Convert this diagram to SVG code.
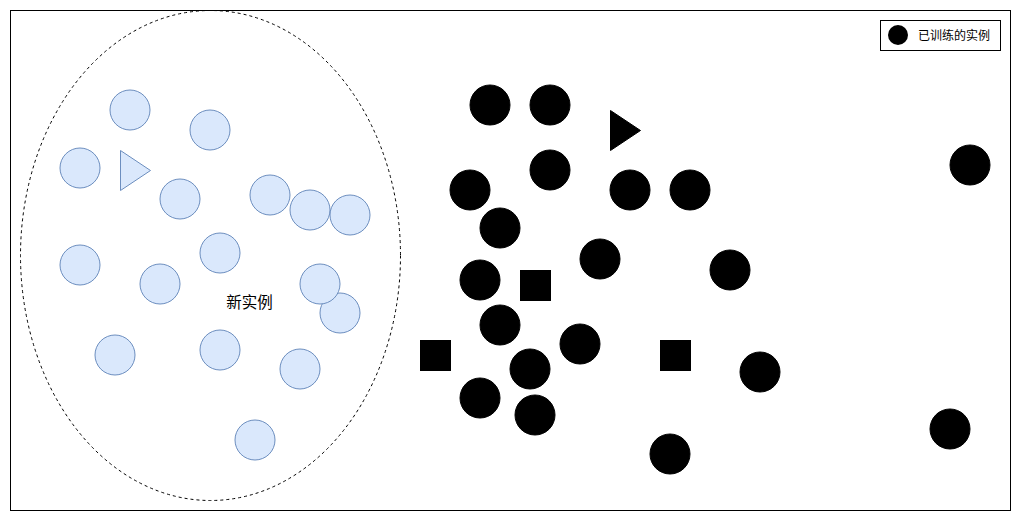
<svg xmlns="http://www.w3.org/2000/svg" width="1021" height="521" viewBox="0 0 1021 521">
<style>
.new{fill:#dae8fc;stroke:#6c8ebf;stroke-width:1}
.tr{fill:#000;stroke:#000;stroke-width:1}
.lbl{font-family:"Liberation Sans","Noto Sans CJK SC",sans-serif;fill:#000}
</style>
<rect width="1021" height="521" fill="#fff"/>
<rect id="frame" x="10.5" y="10.5" width="1000" height="500" fill="none" stroke="#000" stroke-width="1"/>
<g id="new-cluster">
<ellipse cx="210.5" cy="255.5" rx="190" ry="245" fill="none" stroke="#000" stroke-width="1" stroke-dasharray="3 3"/>
</g>
<g id="new-instances">
<circle class="new" cx="130" cy="110" r="20"/>
<circle class="new" cx="210" cy="130" r="20"/>
<circle class="new" cx="80" cy="168" r="20"/>
<polygon class="new" points="120.5,150.5 150.5,170.5 120.5,190.5"/>
<circle class="new" cx="180" cy="199" r="20"/>
<circle class="new" cx="270" cy="195" r="20"/>
<circle class="new" cx="310" cy="210" r="20"/>
<circle class="new" cx="350" cy="215" r="20"/>
<circle class="new" cx="220" cy="253" r="20"/>
<circle class="new" cx="80" cy="265" r="20"/>
<circle class="new" cx="160" cy="284" r="20"/>
<circle class="new" cx="340" cy="313" r="20"/>
<circle class="new" cx="320" cy="284" r="20"/>
<circle class="new" cx="115" cy="355" r="20"/>
<circle class="new" cx="220" cy="350" r="20"/>
<circle class="new" cx="300" cy="369" r="20"/>
<circle class="new" cx="255" cy="440" r="20"/>
</g>
<g id="label-new"><text class="lbl" x="249.5" y="308" font-size="15.5" text-anchor="middle">新实例</text></g>
<g id="trained-instances">
<circle class="tr" cx="490" cy="105" r="20"/>
<circle class="tr" cx="550" cy="105" r="20"/>
<polygon class="tr" points="610.5,110.5 640.5,130.5 610.5,150.5"/>
<circle class="tr" cx="550" cy="170" r="20"/>
<circle class="tr" cx="470" cy="190" r="20"/>
<circle class="tr" cx="630" cy="190" r="20"/>
<circle class="tr" cx="690" cy="190" r="20"/>
<circle class="tr" cx="500" cy="228" r="20"/>
<circle class="tr" cx="600" cy="259" r="20"/>
<circle class="tr" cx="730" cy="270" r="20"/>
<circle class="tr" cx="480" cy="280" r="20"/>
<rect class="tr" x="520.5" y="270.5" width="30" height="30"/>
<circle class="tr" cx="500" cy="325" r="20"/>
<circle class="tr" cx="580" cy="344" r="20"/>
<rect class="tr" x="420.5" y="340.5" width="30" height="30"/>
<rect class="tr" x="660.5" y="340.5" width="30" height="30"/>
<circle class="tr" cx="530" cy="369" r="20"/>
<circle class="tr" cx="760" cy="372" r="20"/>
<circle class="tr" cx="480" cy="398" r="20"/>
<circle class="tr" cx="535" cy="415" r="20"/>
<circle class="tr" cx="670" cy="454" r="20"/>
<circle class="tr" cx="970" cy="165" r="20"/>
<circle class="tr" cx="950" cy="429" r="20"/>
</g>
<g id="legend">
<rect x="880.5" y="20.5" width="120" height="30" fill="#fff" stroke="#000" stroke-width="1"/>
<circle cx="898" cy="35" r="10" fill="#000"/>
<text class="lbl" x="918" y="39.5" font-size="12">已训练的实例</text>
</g>
<g id="connectors"/>
</svg>
